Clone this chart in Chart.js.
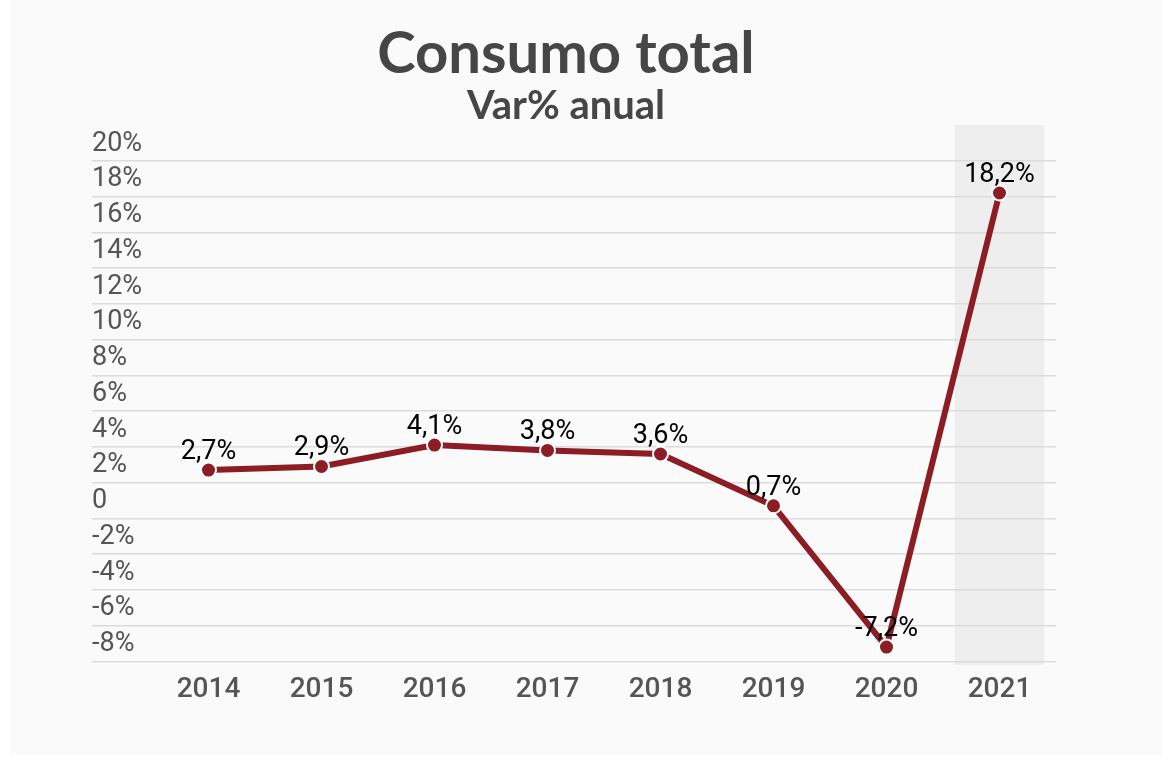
<!DOCTYPE html>
<html>
<head>
<meta charset="utf-8">
<script src="https://cdn.jsdelivr.net/npm/chart.js@4.4.1/dist/chart.umd.min.js"></script>
<style>
  html, body { margin: 0; padding: 0; background: #fff; }
  #wrap { width: 1162px; height: 759px; }
</style>
</head>
<body>
<div id="wrap"><canvas id="grafico" width="1162" height="759"></canvas></div>
<script>
// datos
var anios = ['2014', '2015', '2016', '2017', '2018', '2019', '2020', '2021'];
var variacion = [2.7, 2.9, 4.1, 3.8, 3.6, 0.7, -7.2, 18.2];
var anioDestacado = '2021';

var rojo = '#8c1d24';

function fmt(v) {
	return v.toFixed(1).replace('.', ',') + '%';
}

// fondo gris + columna sombreada del ultimo anio
var fondo = {
	id: 'fondo',
	beforeDraw: function(chart) {
		var ctx = chart.ctx;
		ctx.save();
		ctx.fillStyle = '#ffffff';
		ctx.fillRect(0, 0, chart.width, chart.height);
		ctx.fillStyle = '#fafafa';
		ctx.fillRect(10, 0, chart.width - 10, 755);
		var x = chart.scales.x, y = chart.scales.y;
		var idx = anios.indexOf(anioDestacado);
		var cx = x.getPixelForValue(idx);
		var w = (x.width / anios.length) * 0.79;
		var top = y.getPixelForValue(22);
		var bot = y.getPixelForValue(-8.2);
		ctx.fillStyle = '#eeeeee';
		ctx.fillRect(cx - w / 2, top, w, bot - top);
		ctx.restore();
	}
};

// etiquetas de valor encima de cada punto
var etiquetas = {
	id: 'etiquetas',
	afterDatasetsDraw: function(chart) {
		var ctx = chart.ctx;
		var meta = chart.getDatasetMeta(0);
		ctx.save();
		ctx.font = '400 27px Roboto';
		ctx.fillStyle = '#000';
		ctx.textAlign = 'center';
		ctx.textBaseline = 'middle';
		meta.data.forEach(function(pt, i) {
			ctx.fillText(fmt(variacion[i]), pt.x, pt.y - 18);
		});
		ctx.restore();
	}
};

var ctx = document.getElementById('grafico').getContext('2d');
var grafico = new Chart(ctx, {
	type: 'line',
	data: {
		labels: anios,
		datasets: [{
			label: 'Consumo total',
			data: variacion,
			borderColor: rojo,
			borderWidth: 6,
			tension: 0,
			pointRadius: 7.5,
			pointBackgroundColor: rojo,
			pointBorderColor: '#ffffff',
			pointBorderWidth: 2,
			yAxisID: 'y'
		}]
	},
	options: {
		responsive: false,
		animation: false,
		events: [],
		layout: { padding: { left: 76, right: 106, top: 0, bottom: 40 } },
		plugins: {
			legend: { display: false },
			tooltip: { enabled: false },
			title: {
				display: true,
				text: 'Consumo total',
				color: '#464646',
				font: { family: 'Lato', weight: 'bold', size: 58, lineHeight: 1.1 },
				padding: { top: 22, bottom: 0 }
			},
			subtitle: {
				display: true,
				text: 'Var% anual',
				color: '#464646',
				font: { family: 'Lato', weight: 'bold', size: 40, lineHeight: 1.0 },
				padding: { top: 0, bottom: 35 }
			}
		},
		scales: {
			x: {
				offset: true,
				grid: { display: false, drawTicks: false },
				border: { display: false },
				ticks: {
					color: '#555555',
					padding: 12,
					autoSkip: false,
					maxRotation: 0,
					font: { family: 'Roboto', weight: '500', size: 28 }
				}
			},
			y: {
				position: 'left',
				weight: 1,
				min: -8,
				max: 20,
				border: { display: false },
				grid: {
					color: '#dcdcdc',
					lineWidth: 1.5,
					drawTicks: true,
					tickLength: 60,
					tickColor: '#dcdcdc',
					tickWidth: 1.5
				},
				ticks: {
					stepSize: 2,
					autoSkip: false,
					color: '#555555',
					crossAlign: 'far',
					padding: 0,
					labelOffset: -17,
					font: { family: 'Roboto', weight: '400', size: 27 },
					callback: function(v) { return v === 0 ? '0' : v + '%'; }
				},
				afterFit: function(s) { s.width = 60; }
			},
			margen: {
				type: 'linear',
				position: 'left',
				weight: 10,
				display: true,
				grid: { display: false, drawTicks: false },
				border: { display: false },
				ticks: { display: false },
				afterFit: function(s) { s.width = 16; }
			}
		}
	},
	plugins: [fondo, etiquetas]
});
</script>
</body>
</html>
